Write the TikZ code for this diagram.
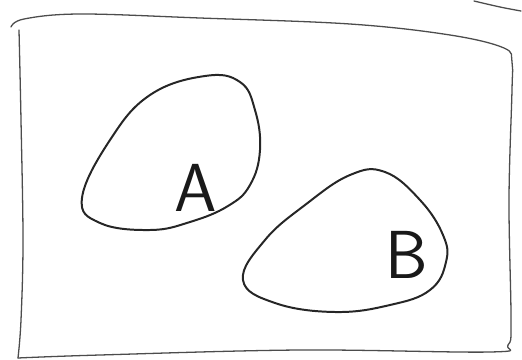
\documentclass[tikz,border=0pt]{standalone}
\usetikzlibrary{positioning}
\usepackage{amsmath}

\begin{document}
\begin{tikzpicture}[
    x=0.03cm, y=-0.03cm,
    frame/.style={line width=1.1pt, black!70, line cap=round, line join=round},
    blob/.style={line width=1.7pt, black!85, line cap=round, line join=round},
    letter/.style={font=\fontsize{58}{60}\selectfont\sffamily, inner sep=0pt, black!90}
]
    \useasboundingbox (0,0) rectangle (522,360);

    % --- Universe box ---
    \draw[frame] plot[smooth, tension=0.6] coordinates {
        (11,27) (24,19) (80,14) (200,18) (350,24) (450,35) (504,48) (512,62)
        (512,90) (509,200) (511,320) (508,345) (490,352) (300,350) (100,355) (18,358)};
    \draw[frame] plot[smooth, tension=0.6] coordinates {
        (19,30) (21,120) (23,240) (21,320) (18,358)};
    \draw[frame] plot[smooth, tension=0.6] coordinates {
        (474,1) (500,7) (521,11)};

    % --- Set A ---
    \draw[blob] plot[smooth cycle, tension=0.7] coordinates {
        (82,198) (110,140) (150,95) (205,76) (240,82) (255,110) (260,150)
        (250,185) (228,206) (190,222) (150,230) (100,223)};
    \node[letter] (labelA) at (196,188) {A};

    % --- Set B ---
    \draw[blob] plot[smooth cycle, tension=0.7] coordinates {
        (243,280) (265,240) (305,205) (350,175) (385,172) (420,200) (443,235)
        (446,262) (430,290) (390,305) (335,312) (275,303)};
    \node[letter] (labelB) at (407,255) {B};
\end{tikzpicture}
\end{document}
